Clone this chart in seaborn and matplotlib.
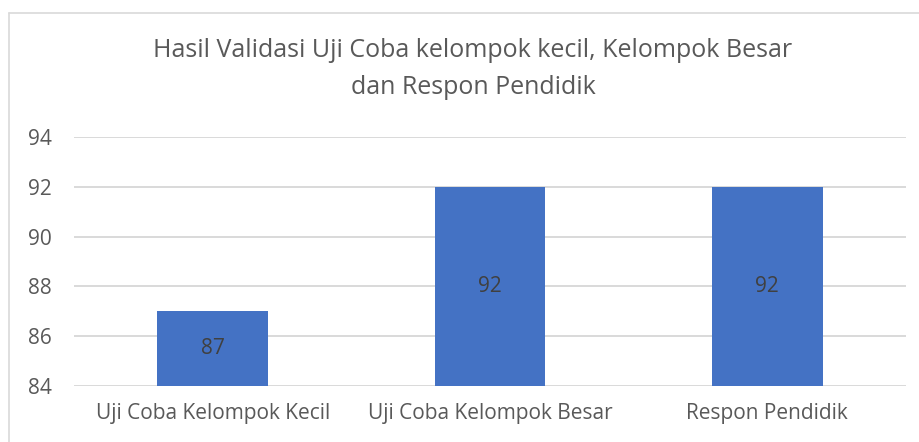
import matplotlib
matplotlib.use("Agg")
import matplotlib.pyplot as plt
import seaborn as sns
import pandas as pd
from matplotlib.lines import Line2D

categories = ["Uji Coba Kelompok Kecil", "Uji Coba Kelompok Besar", "Respon Pendidik"]
values = [87, 92, 92]
yticks = [84, 86, 88, 90, 92, 94]
title = "Hasil Validasi Uji Coba kelompok kecil, Kelompok Besar\ndan Respon Pendidik"

sns.set_theme(style="white")
plt.rcParams["font.family"] = ["Open Sans", "DejaVu Sans"]

df = pd.DataFrame({"cat": categories, "val": values})

fig = plt.figure(figsize=(9.2, 4.42), dpi=100)
ax = fig.add_axes([74 / 920, 1 - 386 / 442, (906 - 74) / 920, (386 - 137) / 442])

sns.barplot(data=df, x="cat", y="val", color="#4472C4", width=0.4, ax=ax,
            saturation=1, zorder=3, linewidth=0)
ax.set_ylim(yticks[0], yticks[-1])
ax.set_yticks(yticks)
ax.set_xlim(-0.5, len(categories) - 0.5)
ax.yaxis.grid(True, color="#D9D9D9", linewidth=1.4, zorder=0)
ax.xaxis.grid(False)
for s in ax.spines.values():
    s.set_visible(False)
ax.set_xlabel("")
ax.set_ylabel("")
ax.tick_params(axis="both", length=0, labelsize=15, colors="#595959")
ax.tick_params(axis="x", pad=12)
ax.tick_params(axis="y", pad=16)

for i, v in enumerate(values):
    ax.text(i, (yticks[0] + v) / 2, str(v), ha="center", va="center",
            fontsize=15, color="#404040", zorder=4)

fig.text(473 / 920, 1 - 69 / 442, title, ha="center", va="center", fontsize=18,
         color="#595959", linespacing=1.6)

# chart border (top and left visible)
fig.add_artist(Line2D([9 / 920, 9 / 920], [0, 1 - 12.5 / 442], color="#D9D9D9",
                      linewidth=1.2, transform=fig.transFigure))
fig.add_artist(Line2D([9 / 920, 1], [1 - 12.5 / 442, 1 - 12.5 / 442], color="#D9D9D9",
                      linewidth=1.2, transform=fig.transFigure))

fig.savefig("out.png", dpi=100, facecolor="white")
